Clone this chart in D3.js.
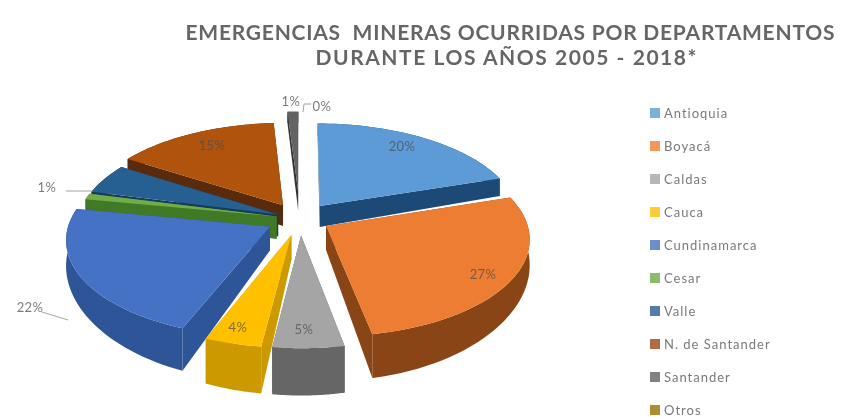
<!DOCTYPE html>
<html>
<head>
<meta charset="utf-8">
<script src="https://cdnjs.cloudflare.com/ajax/libs/d3/7.8.5/d3.min.js"></script>
<style>
html, body { margin: 0; padding: 0; background: #fff; }
svg { display: block; }
text { font-family: Lato, "Open Sans", sans-serif; }
</style>
</head>
<body>
<script>
const departments = ["Antioquia", "Boyacá", "Caldas", "Cauca", "Cundinamarca", "Cesar", "Valle", "N. de Santander", "Santander", "Otros"];
const shares = [20, 27, 5, 4, 22, 1, 5, 15, 1, 0];
const topColors = ["#5b9bd5", "#ed7d31", "#a5a5a5", "#ffc000", "#4472c4", "#70ad47", "#255e91", "#b0520c", "#636363", "#997300"];
const sideColors = ["#1d4a75", "#8a4414", "#666666", "#cc9a00", "#2f5597", "#3f7a25", "#143a5c", "#5a2a08", "#333333", "#5c4500"];
const legendColors = ["#5b9bd5", "#ed7d31", "#a5a5a5", "#ffc000", "#4472c4", "#70ad47", "#255e91", "#9e480e", "#636363", "#997300"];
const titleLines = ["EMERGENCIAS  MINERAS OCURRIDAS POR DEPARTAMENTOS", "DURANTE LOS AÑOS 2005 - 2018*"];

const width = 850, height = 418;
const cx = 300, cy = 219, R = 200, tilt = 0.476, persp = 0.118, thick = 22.5;
// how far each slice is pulled out of the pie
const explodeBy = { "Boyacá": 0.15, "Cesar": 0.12, "Valle": 0.12, "Santander": 0.3 };
const explodeDefault = 0.17;

const svg = d3.select("body").append("svg").attr("width", width).attr("height", height);

const defs = svg.append("defs");
defs.append("filter").attr("id", "soft").append("feGaussianBlur").attr("stdDeviation", 0.55);
const root = svg.append("g").attr("filter", "url(#soft)");

// perspective projection of a point on the pie disc, z = 0 top, z = 1 bottom
function project(X, Y, z) {
    const s = 1 / (1 - persp * Y);
    return [cx + R * X * s, cy + R * tilt * Y * s + z * thick * Math.pow(s, 5)];
}

const pie = d3.pie().sort(null).value(d => d)(shares);
const slices = pie.map((p, i) => {
    const mid = (p.startAngle + p.endAngle) / 2;
    const e = explodeBy[departments[i]] || explodeDefault;
    return { i, name: departments[i], value: shares[i], a0: p.startAngle, a1: p.endAngle, mid,
        ox: e * Math.sin(mid), oy: -e * Math.cos(mid) };
}).filter(d => d.value > 0);

const line = d3.line();

function rimPoint(d, a, r, z) {
    return project(d.ox + r * Math.sin(a), d.oy - r * Math.cos(a), z);
}
function arcAngles(d) {
    return d3.range(0, 41).map(k => d.a0 + (d.a1 - d.a0) * k / 40);
}

const pieG = root.append("g");
const depth = d => d.oy - Math.cos(d.mid) * 0.5;
const order = slices.slice().sort((a, b) => depth(a) - depth(b));

order.forEach(d => {
    const g = pieG.append("g");
    const angles = arcAngles(d);
    const side = sideColors[d.i];
    const radial = a => [rimPoint(d, a, 0, 0), rimPoint(d, a, 1, 0), rimPoint(d, a, 1, 1), rimPoint(d, a, 0, 1)];
    g.append("path").attr("d", line(radial(d.a0)) + "Z").attr("fill", side);
    g.append("path").attr("d", line(radial(d.a1)) + "Z").attr("fill", side);
    const rim = angles.map(a => rimPoint(d, a, 1, 0)).concat(angles.slice().reverse().map(a => rimPoint(d, a, 1, 1)));
    g.append("path").attr("d", line(rim) + "Z").attr("fill", side);
    const top = [rimPoint(d, 0, 0, 0)].concat(angles.map(a => rimPoint(d, a, 1, 0)));
    g.append("path").attr("d", line(top) + "Z").attr("fill", topColors[d.i]);
});

// percent labels, with leader lines for the ones outside the pie
const spots = [
    { name: "Antioquia", x: 402, y: 146 },
    { name: "Boyacá", x: 483, y: 274 },
    { name: "Caldas", x: 304, y: 329 },
    { name: "Cauca", x: 238, y: 327 },
    { name: "N. de Santander", x: 212, y: 145 },
    { name: "Cundinamarca", x: 30, y: 307, leader: [[42, 312], [68, 320]] },
    { name: "Cesar", x: 47, y: 187, leader: [[66, 191], [92, 191]] },
    { name: "Santander", x: 291, y: 101 },
    { name: "Otros", x: 322, y: 106, leader: [[311, 104], [304, 104], [303, 112]] }
];
const labels = root.append("g").attr("font-size", 13).attr("letter-spacing", 0.4).attr("text-anchor", "middle");
spots.forEach(o => {
    const k = departments.indexOf(o.name);
    labels.append("text").attr("x", o.x).attr("y", o.y + 4.5).attr("fill", "#505050").attr("opacity", 0.75).text(shares[k] + "%");
    if (o.leader) root.append("path").attr("d", line(o.leader)).attr("fill", "none").attr("stroke", "#8c8c8c").attr("stroke-width", 0.8);
});

// title
const titleWidths = [649, 381];
root.append("g").selectAll("text").data(titleLines).enter().append("text")
    .attr("x", (d, i) => i ? 506 : 510)
    .attr("y", (d, i) => 40 + i * 25)
    .attr("text-anchor", "middle")
    .attr("font-size", 21)
    .attr("font-weight", 700)
    .attr("fill", "#666666")
    .attr("textLength", (d, i) => titleWidths[i])
    .attr("lengthAdjust", "spacing")
    .style("white-space", "pre")
    .text(d => d);

// legend
const legendY = d3.scalePoint().domain(departments).range([113, 410]);
const legend = root.append("g").selectAll("g").data(departments).enter().append("g")
    .attr("transform", d => `translate(650,${legendY(d)})`);
legend.append("rect").attr("x", 0).attr("y", -5).attr("width", 10).attr("height", 10)
    .attr("fill", (d, i) => legendColors[i]).attr("opacity", 0.8);
legend.append("text").attr("x", 14).attr("y", 4.5).attr("font-size", 13).attr("letter-spacing", 1).attr("fill", "#7a7a7a").text(d => d);
</script>
</body>
</html>
